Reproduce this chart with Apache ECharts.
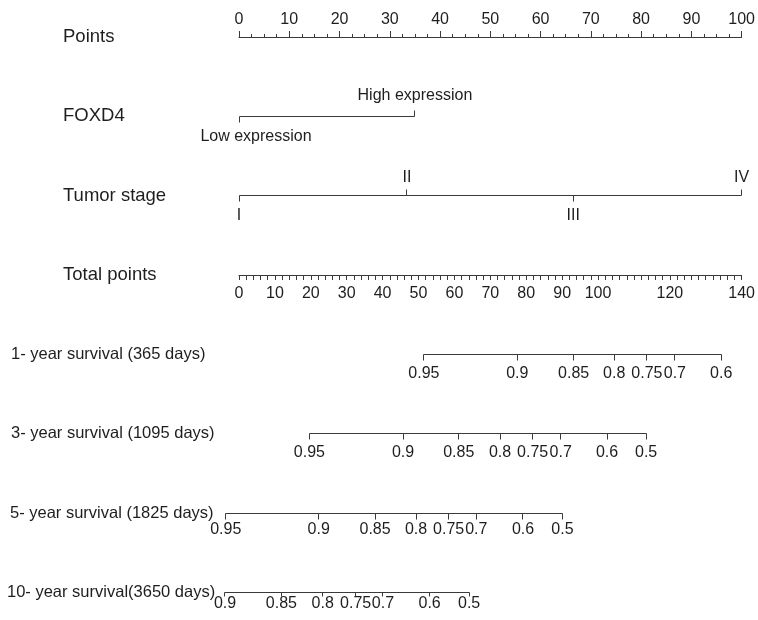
<!DOCTYPE html>
<html><head><meta charset="utf-8">
<script src="https://cdn.jsdelivr.net/npm/echarts@6/dist/echarts.min.js"></script>
<style>html,body{margin:0;padding:0;background:#fff}#c{width:758px;height:620px}</style>
</head><body><div id="c"></div>
<script>
// ---------- data ----------
const rowTitles = ['Points', 'FOXD4', 'Tumor stage', 'Total points',
  '1- year survival (365 days)', '3- year survival (1095 days)',
  '5- year survival (1825 days)', '10- year survival(3650 days)'];
const pointsTickLabels = [0, 10, 20, 30, 40, 50, 60, 70, 80, 90, 100];
const foxd4Levels = ['Low expression', 'High expression'];
const foxd4Points = [0, 35];
const stageLevels = ['I', 'II', 'III', 'IV'];
const stagePoints = [0, 33.4, 66.5, 100];
const totalTickLabels = [0, 10, 20, 30, 40, 50, 60, 70, 80, 90, 100, 120, 140];
const surv1Labels = ['0.95', '0.9', '0.85', '0.8', '0.75', '0.7', '0.6'];
const surv1Points = [51.5, 77.5, 93.2, 104.5, 113.6, 121.4, 134.3];
const surv3Labels = ['0.95', '0.9', '0.85', '0.8', '0.75', '0.7', '0.6', '0.5'];
const surv3Points = [19.6, 45.7, 61.2, 72.7, 81.8, 89.6, 102.5, 113.4];
const surv5Labels = ['0.95', '0.9', '0.85', '0.8', '0.75', '0.7', '0.6', '0.5'];
const surv5Points = [-3.7, 22.2, 37.9, 49.3, 58.4, 66.1, 79.1, 90.1];
const surv10Labels = ['0.9', '0.85', '0.8', '0.75', '0.7', '0.6', '0.5'];
const surv10Points = [-3.9, 11.8, 23.3, 32.5, 40.1, 53.1, 64.1];

// ---------- style ----------
const FONT = '"Liberation Sans", Arial, sans-serif';
const TXT = '#1e1e1e', LN = '#3a3a3a';
const tickLen = {1: 6, 2: 6, 4: 6, 5: 6, 6: 6, 7: 4};
const labelUp = {1: 21, 2: 18};
const labelDown = {1: 20, 2: 20, 4: 19, 5: 19, 6: 17, 7: 11};
const labelShift = {'Low expression': 17};
const titleX = [63, 63, 63, 63, 11, 11, 10, 7];
const titleSize = [18.5, 18.5, 18.5, 18.5, 16.5, 16.5, 16.5, 16.5];

// ---------- build ----------
function items(values, labels, row, dirs) {
  return values.map((v, i) => [v, row, labels[i], dirs[i]]);
}
const varItems = [].concat(
  items(foxd4Points, foxd4Levels, 1, [-1, 1]),
  items(stagePoints, stageLevels, 2, [-1, 1, -1, 1])
);
const survRows = [[surv1Points, surv1Labels, 4], [surv3Points, surv3Labels, 5],
                  [surv5Points, surv5Labels, 6], [surv10Points, surv10Labels, 7]];
let survItems = [];
survRows.forEach(r => { survItems = survItems.concat(items(r[0], r[1], r[2], r[0].map(() => -1))); });

const varSegs = [[foxd4Points[0], foxd4Points[foxd4Points.length - 1], 1],
                 [stagePoints[0], stagePoints[stagePoints.length - 1], 2]];
const survSegs = survRows.map(r => [r[0][0], r[0][r[0].length - 1], r[2]]);

function crisp(v) { return Math.round(v - 0.5) + 0.5; }

function renderTick(params, api) {
  const p = api.coord([api.value(0), api.value(1)]);
  const row = api.value(1);
  const text = api.value(2);
  const dir = api.value(3);
  const x = crisp(p[0]), y = crisp(p[1]);
  const ty = dir > 0 ? p[1] - labelUp[row] : p[1] + labelDown[row];
  return {
    type: 'group',
    children: [
      {type: 'line', shape: {x1: x, y1: y, x2: x, y2: y - dir * tickLen[row]}, style: {stroke: LN, lineWidth: 1}},
      {type: 'text', x: p[0] + (labelShift[text] || 0), y: ty,
       style: {text: text, fill: TXT, fontSize: 16, fontFamily: FONT, align: 'center', verticalAlign: 'middle'}}
    ]
  };
}

function renderSeg(params, api) {
  const a = api.coord([api.value(0), api.value(2)]);
  const b = api.coord([api.value(1), api.value(2)]);
  const y = crisp(a[1]);
  return {type: 'line', shape: {x1: crisp(a[0]), y1: y, x2: crisp(b[0]), y2: y},
          style: {stroke: LN, lineWidth: 1}};
}

function renderTitle(params, api) {
  const row = api.value(0);
  const p = api.coord([0, row]);
  return {type: 'text', x: titleX[row], y: p[1],
    style: {text: rowTitles[row], fill: TXT, fontSize: titleSize[row], fontFamily: FONT, align: 'left', verticalAlign: 'middle'}};
}

const totalTickValues = [];
for (let v = 0; v <= 140; v += 2) totalTickValues.push(v);

function custom(axis, render, data) {
  return {type: 'custom', xAxisIndex: axis, yAxisIndex: 0, clip: false, silent: true, animation: false,
          renderItem: render, data: data};
}

const series = [
  custom(0, renderSeg, varSegs),
  custom(1, renderSeg, survSegs),
  custom(0, renderTick, varItems),
  custom(1, renderTick, survItems),
  custom(0, renderTitle, rowTitles.map((t, i) => [i]))
];

const chart = echarts.init(document.getElementById('c'), null, {renderer: 'canvas'});
chart.setOption({
  animation: false,
  backgroundColor: '#fff',
  grid: {left: 239, right: 14, top: 37, bottom: 345, containLabel: false},
  xAxis: [
    {type: 'value', position: 'top', min: 0, max: 100, interval: 10,
     axisLine: {show: true, lineStyle: {color: LN, width: 1}},
     axisTick: {show: true, length: 6, lineStyle: {color: LN}},
     minorTick: {show: true, splitNumber: 4, length: 3, lineStyle: {color: LN}},
     axisLabel: {show: true, margin: 9, fontSize: 16, fontFamily: FONT, color: TXT,
                 customValues: pointsTickLabels},
     splitLine: {show: false}, minorSplitLine: {show: false}},
    {type: 'value', position: 'bottom', min: 0, max: 140, interval: 10,
     axisLine: {show: true, lineStyle: {color: LN, width: 1}},
     axisTick: {show: true, length: 5, lineStyle: {color: LN}, customValues: totalTickValues},
     axisLabel: {show: true, margin: 11, fontSize: 16, fontFamily: FONT, color: TXT,
                 customValues: totalTickLabels},
     splitLine: {show: false}}
  ],
  yAxis: [{type: 'value', min: 0, max: 3, inverse: true, show: false, splitLine: {show: false}}],
  series: series
});
</script></body></html>
